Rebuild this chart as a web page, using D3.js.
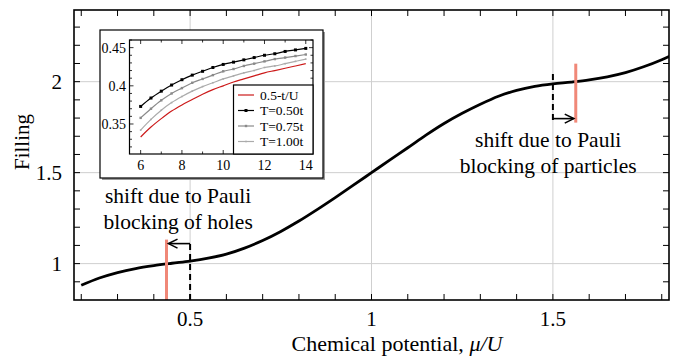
<!DOCTYPE html>
<html><head><meta charset="utf-8">
<script src="https://cdn.jsdelivr.net/npm/d3@7/dist/d3.min.js"></script>
<style>body{margin:0;background:#fff}svg{display:block}text{font-family:"Liberation Serif","Times New Roman",Times,serif}</style>
</head><body><svg id="c" width="680" height="358"></svg>
<script>
// ---------- main curve data ----------
const mu = [0.20,0.25,0.30,0.35,0.40,0.45,0.50,0.55,0.60,0.65,0.70,0.75,0.80,0.85,0.90,0.95,1.00,1.05,1.10,1.15,1.20,1.25,1.30,1.35,1.40,1.45,1.50,1.55,1.60,1.65,1.70,1.75,1.80,1.83];
const filling = [0.881,0.921,0.951,0.973,0.989,1.002,1.014,1.030,1.052,1.085,1.127,1.177,1.234,1.297,1.363,1.431,1.500,1.569,1.637,1.706,1.770,1.826,1.876,1.920,1.952,1.974,1.988,1.998,2.010,2.027,2.050,2.082,2.121,2.148];
const xTicksMajor = [0.5, 1, 1.5];
const yTicksMajor = [1, 1.5, 2];
const xTickLabels = ["0.5", "1", "1.5"];
const yTickLabels = ["1", "1.5", "2"];
// annotation markers (data units)
const redMu = [0.435, 1.563];
const redFrom = [0.80, 1.775];
const redTo = [1.132, 2.099];
const dashMu = [0.5, 1.5];
const dashFrom = [0.80, 1.79];
const dashTo = [1.121, 2.06];
const arrowF = [1.11, 1.797];
const noteLines = [["shift due to Pauli", "blocking of holes"], ["shift due to Pauli", "blocking of particles"]];
const noteMu = [0.467, 1.487];
const noteF = [1.335, 1.643];

// ---------- inset data ----------
const Uvals = [6,6.5,7,7.5,8,8.5,9,9.5,10,10.5,11,11.5,12,12.5,13,13.5,14];
const redSeries = [0.333,0.346,0.357,0.367,0.375,0.382,0.389,0.395,0.400,0.405,0.409,0.413,0.417,0.420,0.423,0.426,0.429];
const t050 = [0.373,0.384,0.393,0.401,0.408,0.414,0.419,0.424,0.428,0.431,0.434,0.437,0.440,0.442,0.445,0.447,0.449];
const t075 = [0.358,0.370,0.381,0.390,0.397,0.404,0.409,0.414,0.419,0.422,0.426,0.429,0.432,0.435,0.437,0.439,0.441];
const t100 = [0.342,0.356,0.368,0.378,0.386,0.393,0.399,0.404,0.409,0.413,0.417,0.420,0.424,0.426,0.429,0.432,0.435];
const legendLabels = ["0.5-t/U", "T=0.50t", "T=0.75t", "T=1.00t"];
const insetXTicks = [6, 8, 10, 12, 14];
const insetYTicks = [0.35, 0.4, 0.45];
const insetYLabels = ["0.35", "0.4", "0.45"];

const svg = d3.select("#c");
const L = 74, R = 669, T = 10, B = 300;
const x = d3.scaleLinear().domain([0.18, 1.82]).range([L, R]);
const y = d3.scaleLinear().domain([0.8, 2.394]).range([B, T]);

const clip = svg.append("defs").append("clipPath").attr("id", "pc");
clip.append("rect").attr("x", L).attr("y", T).attr("width", R - L).attr("height", B - T);

// grid
const g = svg.append("g");
g.selectAll(".gx").data(xTicksMajor).join("line")
  .attr("x1", d => x(d)).attr("x2", d => x(d)).attr("y1", T).attr("y2", B)
  .attr("stroke", "#cfcfcf").attr("stroke-width", 1);
g.selectAll(".gy").data(yTicksMajor).join("line")
  .attr("y1", d => y(d)).attr("y2", d => y(d)).attr("x1", L).attr("x2", R)
  .attr("stroke", "#cfcfcf").attr("stroke-width", 1);

// ticks on four sides (inward)
const xMinor = d3.range(2, 19).map(v => v / 10);
const yMinor = d3.range(9, 24).map(v => v / 10);
const a = svg.append("g").attr("stroke", "#000").attr("stroke-width", 1);
xMinor.forEach(v => {
  a.append("line").attr("x1", x(v)).attr("x2", x(v)).attr("y1", B).attr("y2", B - 6);
  a.append("line").attr("x1", x(v)).attr("x2", x(v)).attr("y1", T).attr("y2", T + 6);
});
yMinor.forEach(v => {
  a.append("line").attr("y1", y(v)).attr("y2", y(v)).attr("x1", L).attr("x2", L + 6);
  a.append("line").attr("y1", y(v)).attr("y2", y(v)).attr("x1", R).attr("x2", R - 6);
});

// main curve
const line = d3.line().x((d, i) => x(mu[i])).y(d => y(d)).curve(d3.curveMonotoneX);
svg.append("path").datum(filling).attr("d", line).attr("clip-path", "url(#pc)")
  .attr("fill", "none").attr("stroke", "#000").attr("stroke-width", 2.8);

// red lines
redMu.forEach((m, i) => {
  svg.append("line").attr("x1", x(m)).attr("x2", x(m)).attr("y1", y(redFrom[i])).attr("y2", y(redTo[i]))
    .attr("stroke", "#f08878").attr("stroke-width", 3);
});
// dashed lines
dashMu.forEach((m, i) => {
  svg.append("line").attr("x1", x(m)).attr("x2", x(m)).attr("y1", y(dashFrom[i])).attr("y2", y(dashTo[i]))
    .attr("stroke", "#000").attr("stroke-width", 2).attr("stroke-dasharray", "6,4");
});
// arrows
dashMu.forEach((m, i) => {
  const x0 = x(m), x1 = x(redMu[i]) + (redMu[i] > m ? -2 : 2), yy = y(arrowF[i]);
  const dir = x1 > x0 ? 1 : -1;
  svg.append("line").attr("x1", x0).attr("x2", x1).attr("y1", yy).attr("y2", yy)
    .attr("stroke", "#000").attr("stroke-width", 1.6);
  svg.append("path").attr("d", `M${x1 - dir * 9},${yy - 4.5}L${x1},${yy}L${x1 - dir * 9},${yy + 4.5}`)
    .attr("fill", "none").attr("stroke", "#000").attr("stroke-width", 1.6);
});

// notes
noteLines.forEach((ls, i) => {
  const t = svg.append("text").attr("font-size", 21.5)
    .attr("text-anchor", "middle").attr("fill", "#000");
  ls.forEach((s, j) => t.append("tspan").attr("x", x(noteMu[i])).attr("y", y(noteF[i]) + j * 26).text(s));
});

// frame
svg.append("rect").attr("x", L).attr("y", T).attr("width", R - L).attr("height", B - T)
  .attr("fill", "none").attr("stroke", "#000").attr("stroke-width", 1.6);

// tick labels
svg.selectAll(".xl").data(xTicksMajor).join("text")
  .attr("x", d => x(d)).attr("y", 326).attr("text-anchor", "middle")
  .attr("font-size", 21).text((d, i) => xTickLabels[i]);
svg.selectAll(".yl").data(yTicksMajor).join("text")
  .attr("x", 62).attr("y", d => y(d) + 7).attr("text-anchor", "end")
  .attr("font-size", 21).text((d, i) => yTickLabels[i]);

// axis titles
const xt = svg.append("text").attr("x", 397).attr("y", 351).attr("text-anchor", "middle")
  .attr("font-size", 22);
xt.append("tspan").text("Chemical potential,  ");
xt.append("tspan").attr("font-style", "italic").text("μ/U");
svg.append("text").attr("transform", "translate(29,142) rotate(-90)").attr("text-anchor", "middle")
  .attr("font-size", 21).text("Filling");

// ---------- inset ----------
const IL = 129.5, IR = 313, IT = 40, IB = 154;
svg.append("rect").attr("x", 102).attr("y", 32).attr("width", 223).attr("height", 148).attr("fill", "#9a9a9a");
svg.append("rect").attr("x", 100).attr("y", 30).attr("width", 223).attr("height", 148)
  .attr("fill", "#fff").attr("stroke", "#000").attr("stroke-width", 1.2);
const ix = d3.scaleLinear().domain([5.46, 14.35]).range([IL, IR]);
const iy = d3.scaleLinear().domain([0.3107, 0.46]).range([IB, IT]);
const ia = svg.append("g").attr("stroke", "#000").attr("stroke-width", 0.8);
d3.range(6, 15).forEach(v => {
  ia.append("line").attr("x1", ix(v)).attr("x2", ix(v)).attr("y1", IB).attr("y2", IB - (v % 2 ? 2.5 : 4));
  ia.append("line").attr("x1", ix(v)).attr("x2", ix(v)).attr("y1", IT).attr("y2", IT + (v % 2 ? 2.5 : 4));
});
d3.range(32, 47).forEach(v => {
  const val = v / 100, major = v % 5 === 0;
  ia.append("line").attr("y1", iy(val)).attr("y2", iy(val)).attr("x1", IL).attr("x2", IL + (major ? 4 : 2.5));
  ia.append("line").attr("y1", iy(val)).attr("y2", iy(val)).attr("x1", IR).attr("x2", IR - (major ? 4 : 2.5));
});
const il = d3.line().x((d, i) => ix(Uvals[i])).y(d => iy(d)).curve(d3.curveMonotoneX);
const series = [
  {v: redSeries, c: "#cc1a1a", m: 0},
  {v: t050, c: "#000", m: 3},
  {v: t075, c: "#8a8a8a", m: 2.4},
  {v: t100, c: "#ababab", m: 1.6}
];
[...series].reverse().forEach(s => {
  svg.append("path").datum(s.v).attr("d", il).attr("fill", "none").attr("stroke", s.c).attr("stroke-width", 1.2);
  if (s.m) svg.selectAll(null).data(s.v).join("rect")
    .attr("x", (d, i) => ix(Uvals[i]) - s.m / 2).attr("y", d => iy(d) - s.m / 2)
    .attr("width", s.m).attr("height", s.m).attr("fill", s.c);
});
svg.append("rect").attr("x", IL).attr("y", IT).attr("width", IR - IL).attr("height", IB - IT)
  .attr("fill", "none").attr("stroke", "#000").attr("stroke-width", 1.2);
svg.selectAll(".ixl").data(insetXTicks).join("text").attr("x", d => ix(d)).attr("y", 170)
  .attr("text-anchor", "middle").attr("font-size", 14).text(d => d);
svg.selectAll(".iyl").data(insetYTicks).join("text").attr("x", 126).attr("y", d => iy(d) + 5)
  .attr("text-anchor", "end").attr("font-size", 14).text((d, i) => insetYLabels[i]);
// legend
svg.append("rect").attr("x", 233.5).attr("y", 85).attr("width", IR - 233.5).attr("height", IB - 85)
  .attr("fill", "#fff").attr("stroke", "#000").attr("stroke-width", 1.2);
legendLabels.forEach((lab, i) => {
  const yy = 95 + i * 15.5, s = series[i];
  svg.append("line").attr("x1", 238).attr("x2", 254).attr("y1", yy).attr("y2", yy)
    .attr("stroke", s.c).attr("stroke-width", 1.2);
  if (s.m) svg.append("rect").attr("x", 246 - s.m / 2).attr("y", yy - s.m / 2).attr("width", s.m).attr("height", s.m).attr("fill", s.c);
  svg.append("text").attr("x", 260).attr("y", yy + 4.5).attr("font-size", 13.5).text(lab);
});
</script></body></html>
